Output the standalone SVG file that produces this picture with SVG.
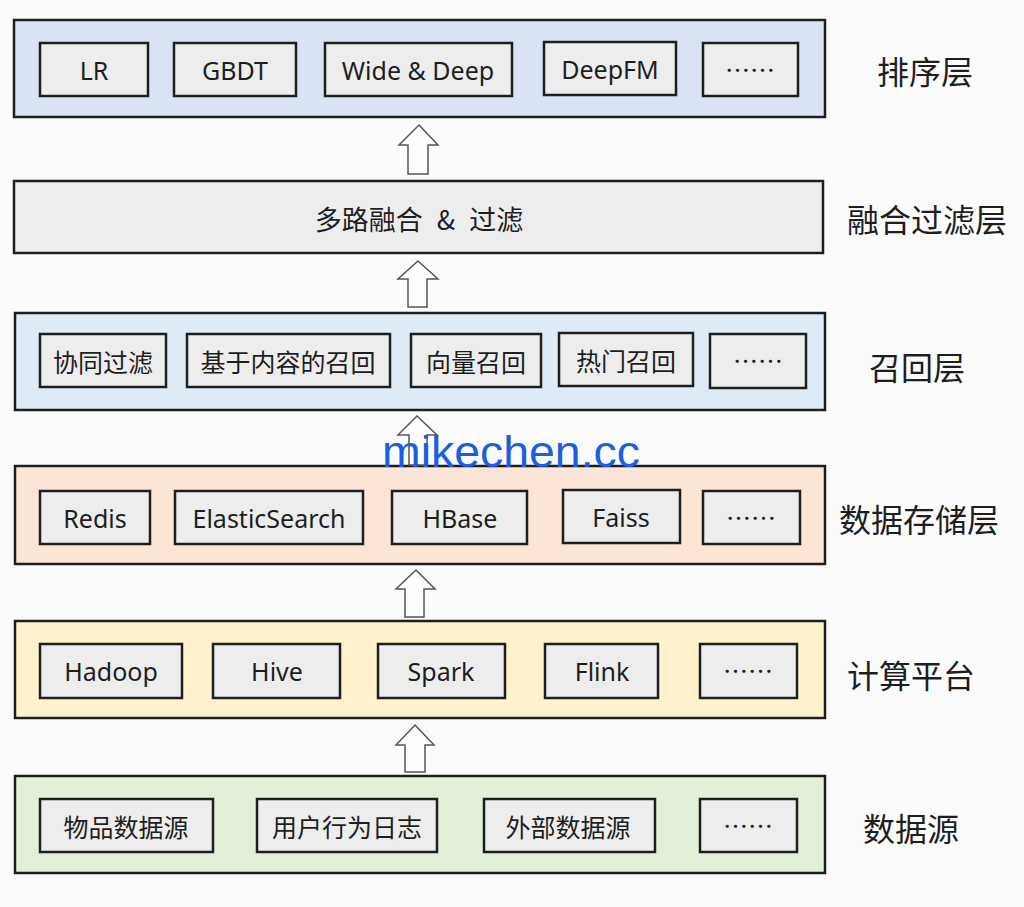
<svg xmlns="http://www.w3.org/2000/svg" width="1024" height="907" viewBox="0 0 1024 907">
<defs>
<style>
.layer{stroke:#1e1e1e;stroke-width:2.5}
.box{fill:#ededed;stroke:#1e1e1e;stroke-width:2.5}
.t{font-family:"Noto Sans","Noto Sans CJK SC",sans-serif;font-size:25px;fill:#1e1e1e;text-anchor:middle;dominant-baseline:central}
.c{font-family:"Noto Sans CJK SC","Noto Sans",sans-serif;font-size:25px;fill:#1e1e1e;text-anchor:middle;dominant-baseline:central}
.d{font-family:"Noto Sans CJK SC",sans-serif;font-size:25px;fill:#1e1e1e;text-anchor:middle;dominant-baseline:central}
.lbl{font-family:"Noto Sans CJK SC","Noto Sans",sans-serif;font-size:32px;fill:#1e1e1e;text-anchor:middle;dominant-baseline:central}
.arrow{fill:#fefefe;stroke:#555;stroke-width:1.5;stroke-linejoin:miter}
</style>
</defs>
<rect width="1024" height="907" fill="#fbfbfc"/>

<g id="layer-rank">
<rect class="layer" x="14" y="20" width="811" height="97" fill="#dae3f3"/>
<rect class="box" x="40" y="43" width="108" height="53"/><text class="t" x="94" y="70">LR</text>
<rect class="box" x="174" y="43" width="122" height="53"/><text class="t" x="235" y="70">GBDT</text>
<rect class="box" x="325" y="43" width="187" height="53"/><text class="t" x="418" y="70">Wide &amp; Deep</text>
<rect class="box" x="544" y="42" width="132" height="53"/><text class="t" x="610" y="69">DeepFM</text>
<rect class="box" x="703" y="43" width="95" height="53"/><text class="d" x="750" y="69">……</text>
<text class="lbl" x="925" y="70">排序层</text>
</g>

<g id="layer-fusion">
<rect class="layer" x="14" y="181" width="809" height="72" fill="#ededed"/>
<text class="c" x="419" y="218" style="font-size:27px;word-spacing:8px">多路融合 &amp; 过滤</text>
<text class="lbl" x="927" y="218">融合过滤层</text>
</g>

<g id="layer-recall">
<rect class="layer" x="15" y="313" width="810" height="97" fill="#deebf7"/>
<rect class="box" x="40" y="334" width="126" height="53"/><text class="c" x="103" y="361">协同过滤</text>
<rect class="box" x="187" y="334" width="203" height="53"/><text class="c" x="288" y="361">基于内容的召回</text>
<rect class="box" x="411" y="334" width="130" height="53"/><text class="c" x="476" y="361">向量召回</text>
<rect class="box" x="559" y="333" width="134" height="53"/><text class="c" x="626" y="360">热门召回</text>
<rect class="box" x="710" y="334" width="96" height="54"/><text class="d" x="758" y="360">……</text>
<text class="lbl" x="917" y="366">召回层</text>
</g>

<g id="layer-storage">
<rect class="layer" x="15" y="466" width="810" height="98" fill="#fbe5d6"/>
<rect class="box" x="40" y="491" width="110" height="53"/><text class="t" x="95" y="518">Redis</text>
<rect class="box" x="175" y="491" width="188" height="53"/><text class="t" x="269" y="518">ElasticSearch</text>
<rect class="box" x="392" y="491" width="135" height="53"/><text class="t" x="460" y="518">HBase</text>
<rect class="box" x="563" y="490" width="117" height="53"/><text class="t" x="621" y="517">Faiss</text>
<rect class="box" x="703" y="491" width="97" height="53"/><text class="d" x="751" y="517">……</text>
<text class="lbl" x="919" y="518">数据存储层</text>
</g>

<g id="layer-compute">
<rect class="layer" x="15" y="621" width="810" height="97" fill="#fff2cc"/>
<rect class="box" x="40" y="644" width="142" height="54"/><text class="t" x="111" y="671">Hadoop</text>
<rect class="box" x="213" y="644" width="127" height="54"/><text class="t" x="277" y="671">Hive</text>
<rect class="box" x="378" y="644" width="127" height="54"/><text class="t" x="441" y="671">Spark</text>
<rect class="box" x="545" y="644" width="113" height="54"/><text class="t" x="602" y="671">Flink</text>
<rect class="box" x="700" y="644" width="97" height="54"/><text class="d" x="748" y="670">……</text>
<text class="lbl" x="911" y="674">计算平台</text>
</g>

<g id="layer-source">
<rect class="layer" x="15" y="776" width="810" height="97" fill="#e2f0d9"/>
<rect class="box" x="40" y="799" width="173" height="53"/><text class="c" x="126" y="826">物品数据源</text>
<rect class="box" x="257" y="799" width="180" height="53"/><text class="c" x="347" y="826">用户行为日志</text>
<rect class="box" x="484" y="799" width="171" height="53"/><text class="c" x="568" y="826">外部数据源</text>
<rect class="box" x="700" y="799" width="97" height="53"/><text class="d" x="748" y="825">……</text>
<text class="lbl" x="911" y="827">数据源</text>
</g>

<g id="connectors">
<polygon class="arrow" points="419,125 438,145 428,145 428,174 408,174 408,145 399,145"/>
<polygon class="arrow" points="418,261 438,279 427,279 427,307 408,307 408,279 398,279"/>
<polygon class="arrow" points="417,416 437,435 427,435 427,465 409,465 409,435 398,435"/>
<polygon class="arrow" points="416,570 435,589 424,589 424,617 405,617 405,589 396,589"/>
<polygon class="arrow" points="415,725 434,745 425,745 425,772 405,772 405,745 396,745"/>
</g>

<text x="382" y="467" textLength="258" lengthAdjust="spacingAndGlyphs" style="font-family:'Liberation Sans',Arial,sans-serif;font-size:44px;fill:#1a5fe0">mikechen.cc</text>
</svg>
